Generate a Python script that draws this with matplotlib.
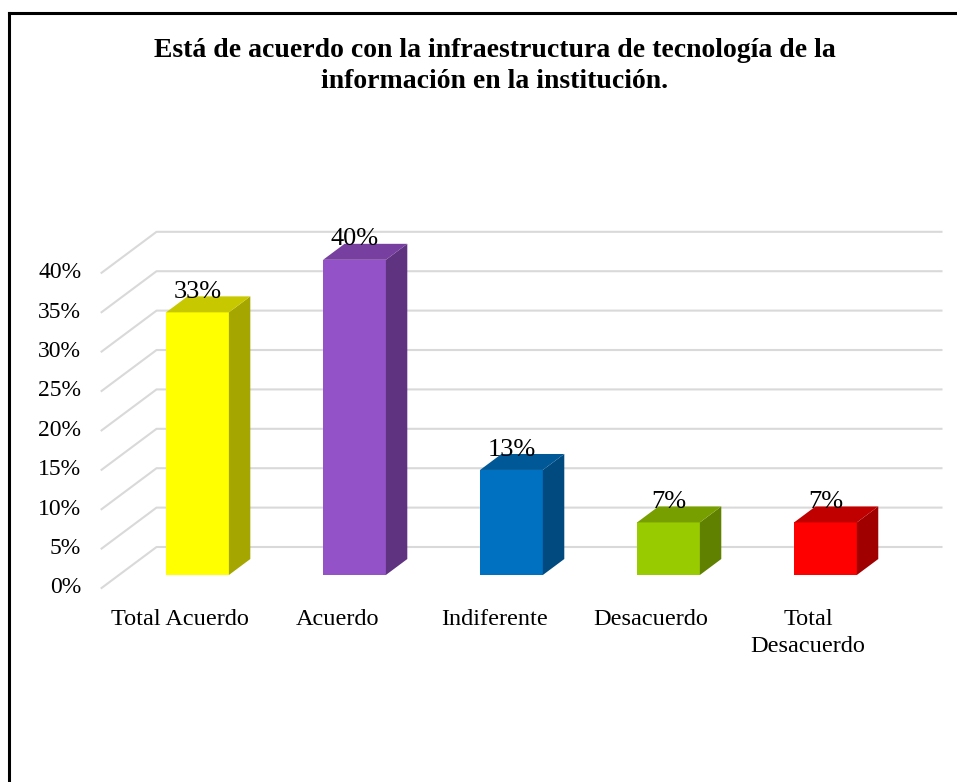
import matplotlib.pyplot as plt
from matplotlib.patches import Polygon

# data
categories = ['Total Acuerdo', 'Acuerdo', 'Indiferente', 'Desacuerdo', 'Total\nDesacuerdo']
values = [33.33, 40.0, 13.33, 6.67, 6.67]
value_labels = ['33%', '40%', '13%', '7%', '7%']
yticks = [0, 5, 10, 15, 20, 25, 30, 35, 40]
front_colors = ['#FFFF00', '#9452C8', '#0070C0', '#99CC00', '#FF0000']
top_colors = ['#C8C800', '#763FA0', '#005896', '#789F00', '#C00000']
side_colors = ['#A6A600', '#5F3380', '#004A80', '#608000', '#A00000']

plt.rcParams['font.family'] = ['Liberation Serif', 'DejaVu Serif']

# fake 3D: full depth of the floor and where the bars sit in it
depth_dx, depth_dy = 0.35, 5.2
t_front, t_back = 0.317, 0.707
bar_w = 0.4

fig = plt.figure(figsize=(9.57, 7.82), dpi=100)
ax = fig.add_axes([0, 0, 1, 1])
ax.set_xlim(-1.258, 4.838)
ax.set_ylim(-26.27, 72.97)
ax.axis('off')

# gridlines: side wall diagonal + back wall
front_left = -0.5 - t_front * depth_dx
for v in yticks:
    y0 = v - t_front * depth_dy
    xs = [front_left, front_left + depth_dx, front_left + depth_dx + 5]
    ys = [y0, y0 + depth_dy, y0 + depth_dy]
    ax.plot(xs, ys, color='#D9D9D9', lw=1.5, zorder=1)
    ax.text(front_left - 0.13, y0, f'{v}%', ha='right', va='center', fontsize=17)

# bars
bdx = (t_back - t_front) * depth_dx
bdy = (t_back - t_front) * depth_dy
for i, v in enumerate(values):
    x0, x1 = i - bar_w / 2, i + bar_w / 2
    ax.bar(i, v, width=bar_w, color=front_colors[i], zorder=3)
    ax.add_patch(Polygon([(x1, 0), (x1 + bdx, bdy), (x1 + bdx, v + bdy), (x1, v)],
                         closed=True, fc=side_colors[i], ec='none', zorder=3))
    ax.add_patch(Polygon([(x0, v), (x1, v), (x1 + bdx, v + bdy), (x0 + bdx, v + bdy)],
                         closed=True, fc=top_colors[i], ec='none', zorder=3))
    ax.text(i, v + bdy - 0.2, value_labels[i], ha='center', va='baseline', fontsize=19, zorder=4)
    ax.text(i - t_front * depth_dx, -4.3, categories[i], ha='center', va='top',
            fontsize=17.5, linespacing=1.4)

fig.text(0.517, 0.952, 'Está de acuerdo con la infraestructura de tecnología de la\ninformación en la institución.',
         ha='center', va='top', fontsize=20, fontweight='bold', linespacing=1.32)

# outer frame: top and left only
fig.add_artist(plt.Line2D([0.0099, 1.0], [0.9834, 0.9834], color='black', lw=2.2))
fig.add_artist(plt.Line2D([0.0099, 0.0099], [0.0, 0.9834], color='black', lw=2.2))

fig.savefig('out.png', dpi=100)
